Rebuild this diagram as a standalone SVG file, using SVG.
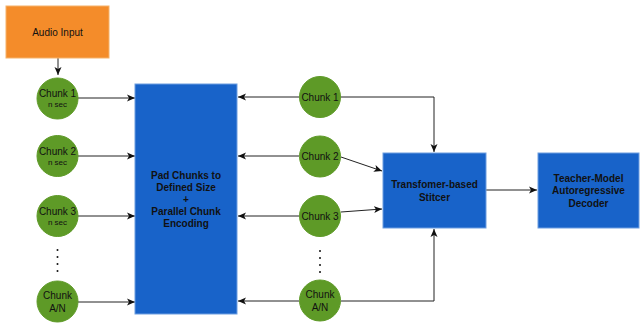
<svg xmlns="http://www.w3.org/2000/svg" width="642" height="324" viewBox="0 0 642 324">
<style>
.box{fill:#1863c9;stroke:#6c9ee0;stroke-width:1}
.circ{fill:#5e9a27;stroke:#5e9a27;stroke-width:1}
.t{font-family:"Liberation Sans",Arial,sans-serif;fill:#111;text-anchor:middle}
.c{font-size:10px}
.s{font-size:8px}
.b{font-size:10px;font-weight:bold}
.e{fill:none;stroke:#222;stroke-width:1;marker-end:url(#a)}
.dot{fill:#111}
</style>
<defs>
<marker id="a" markerWidth="9" markerHeight="8" refX="8" refY="4" orient="auto" markerUnits="userSpaceOnUse">
<path d="M0,0.5 L8,4 L0,7.5 L2,4 z" fill="#111"/>
</marker>
</defs>
<rect width="642" height="324" fill="#fff"/>
<g id="connectors">
<path class="e" d="M58,58 V75"/>
<path class="e" d="M78,98 H135"/>
<path class="e" d="M78,156 H135"/>
<path class="e" d="M78,216 H135"/>
<path class="e" d="M78,302 H135"/>
<path class="e" d="M299,97 H238"/>
<path class="e" d="M299,156 H238"/>
<path class="e" d="M299,216 H238"/>
<path class="e" d="M299,301 H238"/>
<path class="e" d="M341,97 H434 V152"/>
<path class="e" d="M341,157 L382,171"/>
<path class="e" d="M341,212 L382,209"/>
<path class="e" d="M341,301 H434 V229"/>
<path class="e" d="M486,190 H537"/>
</g>
<g id="audio">
<rect x="6" y="6" width="103" height="52" fill="#f48c2a" stroke="#f5b26a"/>
<text class="t c" x="57.5" y="36">Audio Input</text>
</g>
<g id="lc1"><circle class="circ" cx="57.5" cy="98.5" r="20.5"/><text class="t c" x="57.5" y="97">Chunk 1</text><text class="t s" x="57.5" y="107">n sec</text></g>
<g id="lc2"><circle class="circ" cx="57.5" cy="156" r="20.5"/><text class="t c" x="57.5" y="154.5">Chunk 2</text><text class="t s" x="57.5" y="164.5">n sec</text></g>
<g id="lc3"><circle class="circ" cx="57.5" cy="216" r="20.5"/><text class="t c" x="57.5" y="214.5">Chunk 3</text><text class="t s" x="57.5" y="224.5">n sec</text></g>
<g id="ldots"><circle class="dot" cx="57.5" cy="250" r="1"/><circle class="dot" cx="57.5" cy="257" r="1"/><circle class="dot" cx="57.5" cy="264" r="1"/><circle class="dot" cx="57.5" cy="271" r="1"/></g>
<g id="lcn"><circle class="circ" cx="57.5" cy="301.5" r="20.5"/><text class="t c" x="57.5" y="298.5">Chunk</text><text class="t c" x="57.5" y="311.5">A/N</text></g>
<g id="encoder">
<rect class="box" x="135" y="84" width="102" height="230"/>
<text class="t b" x="186" y="178.5">Pad Chunks to</text>
<text class="t b" x="186" y="190.5">Defined Size</text>
<text class="t b" x="186" y="202.5">+</text>
<text class="t b" x="186" y="214.5">Parallel Chunk</text>
<text class="t b" x="186" y="226.5">Encoding</text>
</g>
<g id="rc1"><circle class="circ" cx="320" cy="97" r="20.5"/><text class="t c" x="320" y="100.5">Chunk 1</text></g>
<g id="rc2"><circle class="circ" cx="320" cy="156.5" r="20.5"/><text class="t c" x="320" y="160">Chunk 2</text></g>
<g id="rc3"><circle class="circ" cx="320" cy="216" r="20.5"/><text class="t c" x="320" y="219.5">Chunk 3</text></g>
<g id="rdots"><circle class="dot" cx="320" cy="251" r="1"/><circle class="dot" cx="320" cy="258" r="1"/><circle class="dot" cx="320" cy="265" r="1"/><circle class="dot" cx="320" cy="272" r="1"/></g>
<g id="rcn"><circle class="circ" cx="320" cy="300.5" r="20.5"/><text class="t c" x="320" y="298">Chunk</text><text class="t c" x="320" y="311">A/N</text></g>
<g id="stitcher">
<rect class="box" x="383" y="153" width="103" height="75"/>
<text class="t b" x="434.5" y="187.5">Transfomer-based</text>
<text class="t b" x="434.5" y="200.5">Stitcer</text>
</g>
<g id="decoder">
<rect class="box" x="538" y="153" width="101" height="75"/>
<text class="t b" x="588.5" y="181.5">Teacher-Model</text>
<text class="t b" x="588.5" y="194">Autoregressive</text>
<text class="t b" x="588.5" y="206.5">Decoder</text>
</g>
</svg>
